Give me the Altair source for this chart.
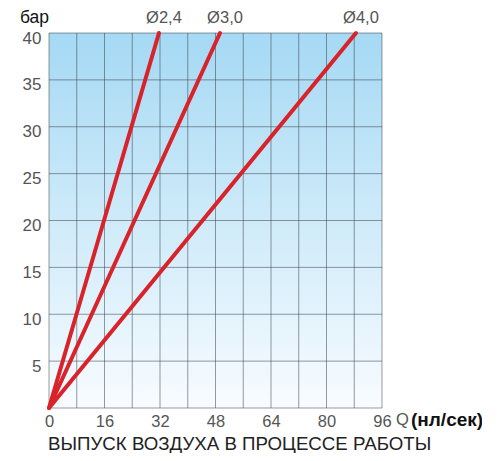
import altair as alt
import pandas as pd

# Data
series = ["Ø2,4", "Ø3,0", "Ø4,0"]
q_start = [0, 0, 0]
p_start = [0, 0, 0]
q_end = [31.7, 49.3, 88.5]
p_end = [40, 40, 40]

x_ticks = [0, 8, 16, 24, 32, 40, 48, 56, 64, 72, 80, 88, 96]
y_ticks = [0, 5, 10, 15, 20, 25, 30, 35, 40]

rows = []
for s, q0, p0, q1, p1 in zip(series, q_start, p_start, q_end, p_end):
    rows.append({"s": s, "q": q0, "p": p0, "o": 0})
    rows.append({"s": s, "q": q1, "p": p1, "o": 1})
lines_df = pd.DataFrame(rows)
labels_df = pd.DataFrame({"s": series, "q": q_end, "p": p_end})

FONT = "Liberation Sans"
W, H = 333, 375

xs = alt.Scale(domain=[0, 96], nice=False, zero=False)
ys = alt.Scale(domain=[0, 40], nice=False, zero=False)

bg = alt.Chart(pd.DataFrame({"a": [0]})).mark_rect(
    fill=alt.Gradient(
        gradient="linear",
        stops=[alt.GradientStop(color="#a5d9f4", offset=0),
               alt.GradientStop(color="#f8fcff", offset=1)],
        x1=0, x2=0, y1=0, y2=1,
    )
).encode(
    x=alt.datum(0, scale=xs,
                axis=alt.Axis(values=x_ticks, grid=False, domain=False, ticks=False, title=None,
                              labelExpr="datum.value % 16 == 0 ? datum.label : ''",
                              labelFlush=False,
                              labelFont=FONT, labelFontSize=16.5, labelColor="#555555",
                              labelPadding=5)),
    x2=alt.datum(96),
    y=alt.datum(0, scale=ys,
                axis=alt.Axis(values=y_ticks, grid=False, domain=False, ticks=False, title=None,
                              labelExpr="datum.value == 0 ? '' : datum.label",
                              labelFlush=False,
                              labelFont=FONT, labelFontSize=17, labelColor="#555555",
                              labelPadding=8, labelOffset=5)),
    y2=alt.datum(40),
)

vgrid = alt.Chart(pd.DataFrame({"q": x_ticks})).mark_rule(
    color="#2f3a40", opacity=0.5, strokeWidth=1
).encode(x=alt.X("q:Q", scale=xs), y=alt.datum(0), y2=alt.datum(40))

hgrid = alt.Chart(pd.DataFrame({"p": y_ticks})).mark_rule(
    color="#2f3a40", opacity=0.5, strokeWidth=1
).encode(y=alt.Y("p:Q", scale=ys), x=alt.datum(0), x2=alt.datum(96))

lines = alt.Chart(lines_df).mark_line(color="#d8232a", strokeWidth=4, strokeCap="round").encode(
    x=alt.X("q:Q", scale=xs),
    y=alt.Y("p:Q", scale=ys),
    detail="s:N",
    order="o:Q",
)

line_labels = alt.Chart(labels_df).mark_text(
    font=FONT, fontSize=16.5, color="#555555", align="center", baseline="middle", dx=5, dy=-15
).encode(x=alt.X("q:Q", scale=xs), y=alt.Y("p:Q", scale=ys), text="s:N")

unit_y = alt.Chart(pd.DataFrame({"t": ["бар"]})).mark_text(
    font=FONT, fontSize=17.5, color="#111111", align="right", baseline="middle", dx=0, dy=-15
).encode(x=alt.datum(0), y=alt.datum(40), text="t:N")

q_lab = alt.Chart(pd.DataFrame({"t": ["Q"]})).mark_text(
    font=FONT, fontSize=16.5, color="#555555", align="left", baseline="middle", dx=14, dy=12
).encode(x=alt.datum(96), y=alt.datum(0), text="t:N")

unit_x = alt.Chart(pd.DataFrame({"t": ["(нл/сек)"]})).mark_text(
    font=FONT, fontSize=19, fontWeight="bold", color="#111111", align="left", baseline="middle", dx=29, dy=12
).encode(x=alt.datum(96), y=alt.datum(0), text="t:N")

title = alt.Chart(pd.DataFrame({"t": ["ВЫПУСК ВОЗДУХА В ПРОЦЕССЕ РАБОТЫ"]})).mark_text(
    font=FONT, fontSize=18.7, color="#222222", align="left", baseline="middle", dx=-1, dy=36
).encode(x=alt.datum(0), y=alt.datum(0), text="t:N")

chart = alt.layer(bg, vgrid, hgrid, lines, line_labels, unit_y, q_lab, unit_x, title).properties(
    width=W, height=H,
    autosize=alt.AutoSizeParams(type="none"),
    padding={"left": 41, "top": 25, "right": 100, "bottom": 45},
).configure_view(stroke=None)

chart.save("out.html", embed_options={"renderer": "svg", "actions": False})
